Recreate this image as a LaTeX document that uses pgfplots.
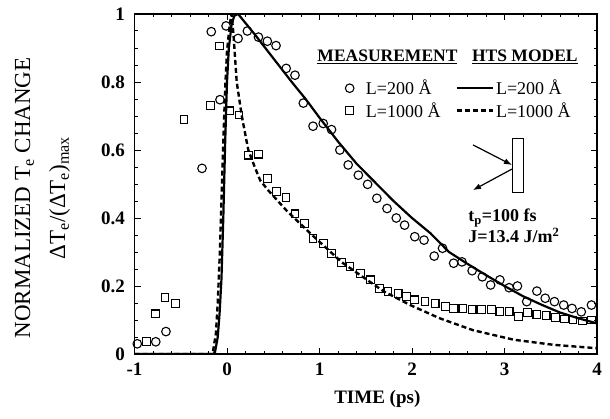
\documentclass[border=0pt]{standalone}
\usepackage{fontspec}
\setmainfont{Liberation Serif}
\usepackage{pgfplots}
\pgfplotsset{compat=1.18}
\usetikzlibrary{arrows.meta}
\pgfplotsset{
  lineleg/.style={legend image code/.code={\draw[##1] (0pt,0pt) -- (36pt,0pt);}},
  markleg/.style={legend image code/.code={\draw[##1] plot[only marks] coordinates {(0pt,0pt)};}},
}
\begin{document}
\begin{tikzpicture}
\begin{axis}[
  scale only axis, width=462.5pt, height=340pt,
  xmin=-1, xmax=4, ymin=0, ymax=1,
  xtick={-1,0,1,2,3,4}, xticklabels={-1,0,1,2,3,4},
  ytick={0,0.2,0.4,0.6,0.8,1}, yticklabels={0,0.2,0.4,0.6,0.8,1},
  minor x tick num=4, minor y tick num=3,
  tick align=inside, major tick length=6pt, minor tick length=3.5pt,
  every tick/.style={black, line width=1pt},
  axis line style={line width=1.3pt},
  ticklabel style={font=\bfseries\fontsize{19}{19}\selectfont},
  xticklabel style={yshift=-5pt},
  yticklabel style={xshift=-6pt},
  xlabel={TIME (ps)},
  xlabel style={font=\bfseries\fontsize{19}{19}\selectfont, at={(axis description cs:0.525,-0.132)}, anchor=center},
  ylabel={NORMALIZED T\textsubscript{e} CHANGE\\ΔT\textsubscript{e}/(ΔT\textsubscript{e})\textsubscript{max}},
  ylabel style={font=\fontsize{23}{35}\selectfont, align=center, at={(axis description cs:-0.199,0.459)}, anchor=center},
  legend columns=2,
  legend style={draw=none, fill=none, at={(axis description cs:0.449,0.749)}, anchor=west,
    font=\fontsize{18}{18}\selectfont, row sep=2pt,
    /tikz/every even column/.append style={column sep=13pt}, cells={anchor=west}},
]
% measurement L=200
\addplot[only marks, mark=o, mark size=4.3pt, mark options={line width=1.1pt, black}, markleg] coordinates {
(-0.97,0.03) (-0.77,0.036) (-0.66,0.066) (-0.27,0.546) (-0.17,0.948) (-0.076,0.748)
(-0.01,0.965) (0.12,0.928) (0.22,0.95) (0.34,0.932) (0.436,0.92) (0.53,0.907) (0.64,0.84)
(0.735,0.82) (0.825,0.738) (0.93,0.67) (1.04,0.678) (1.13,0.66) (1.22,0.60) (1.31,0.556)
(1.42,0.526) (1.52,0.499) (1.62,0.458) (1.73,0.428) (1.83,0.40) (1.92,0.379) (2.03,0.345)
(2.13,0.335) (2.24,0.288) (2.33,0.311) (2.45,0.267) (2.54,0.271) (2.65,0.245) (2.76,0.227)
(2.85,0.203) (2.95,0.218) (3.05,0.195) (3.14,0.20) (3.24,0.154) (3.35,0.185) (3.44,0.164)
(3.54,0.154) (3.64,0.144) (3.73,0.134) (3.83,0.124) (3.94,0.144)
};
\addlegendentry{\hspace{10pt}L=200 Å}
% HTS model L=200
\addplot[black, line width=2.2pt, lineleg] coordinates {
(-1,0) (-0.15,0) (-0.13,0.005) (-0.10,0.05) (-0.08,0.12) (-0.06,0.22) (-0.04,0.40)
(-0.02,0.62) (0,0.80) (0.02,0.90) (0.05,0.97) (0.08,0.995) (0.12,1.0) (0.3,0.94)
(0.5,0.87) (0.7,0.80) (0.85,0.75) (1.0,0.695) (1.2,0.625) (1.4,0.56) (1.6,0.505)
(1.8,0.45) (2.0,0.40) (2.2,0.355) (2.4,0.30) (2.6,0.265) (2.8,0.232) (3.0,0.20)
(3.2,0.17) (3.4,0.145) (3.6,0.122) (3.8,0.105) (4.0,0.09)
};
\addlegendentry{L=200 Å}
% measurement L=1000
\addplot[only marks, mark=square, mark size=3.9pt, mark options={line width=1.1pt, black}, markleg] coordinates {
(-0.87,0.036) (-0.77,0.118) (-0.67,0.167) (-0.56,0.149) (-0.465,0.69) (-0.18,0.73)
(-0.083,0.906) (0.03,0.715) (0.13,0.703) (0.23,0.585) (0.34,0.588) (0.436,0.517)
(0.537,0.477) (0.638,0.461) (0.735,0.412) (0.84,0.384) (0.93,0.34) (1.04,0.324)
(1.13,0.296) (1.24,0.27) (1.33,0.257) (1.44,0.237) (1.55,0.218) (1.65,0.193) (1.74,0.183)
(1.85,0.178) (1.94,0.169) (2.03,0.159) (2.14,0.154) (2.25,0.149) (2.36,0.139) (2.45,0.134)
(2.55,0.134) (2.65,0.131) (2.75,0.131) (2.86,0.131) (2.95,0.124) (3.05,0.124) (3.15,0.11)
(3.25,0.122) (3.35,0.117) (3.45,0.113) (3.55,0.108) (3.65,0.103) (3.74,0.10) (3.84,0.097)
(3.94,0.10)
};
\addlegendentry{\hspace{10pt}L=1000 Å}
% HTS model L=1000
\addplot[black, line width=2.4pt, dash pattern=on 5pt off 3pt, lineleg] coordinates {
(-1,0) (-0.17,0) (-0.15,0.01) (-0.12,0.06) (-0.10,0.15) (-0.08,0.28) (-0.06,0.45)
(-0.04,0.62) (-0.02,0.78) (0,0.89) (0.03,0.97) (0.05,1.0) (0.07,0.94) (0.105,0.80)
(0.16,0.70) (0.23,0.60) (0.30,0.55) (0.36,0.51) (0.45,0.48) (0.54,0.453) (0.65,0.42)
(0.75,0.394) (0.9,0.355) (1.04,0.32) (1.24,0.27) (1.44,0.232) (1.69,0.185) (1.98,0.144)
(2.3,0.105) (2.66,0.07) (3.1,0.042) (3.53,0.027) (4.0,0.017)
};
\addlegendentry{L=1000 Å}
\node[font=\bfseries\fontsize{17.5}{17.5}\selectfont] at (axis cs:1.735,0.875) {\underline{MEASUREMENT}};
\node[font=\bfseries\fontsize{17.5}{17.5}\selectfont] at (axis cs:3.22,0.875) {\underline{HTS MODEL}};
\draw[line width=1pt] (axis cs:3.081,0.476) rectangle (axis cs:3.200,0.635);
\draw[line width=1.2pt, -{Latex[length=8pt,width=6pt]}] (axis cs:2.659,0.615) -- (axis cs:3.081,0.556);
\draw[line width=1.2pt, -{Latex[length=8pt,width=6pt]}] (axis cs:3.081,0.544) -- (axis cs:2.659,0.482);
\node[anchor=west, align=left, font=\bfseries\fontsize{18}{19}\selectfont] at (axis cs:2.57,0.377)
  {t\textsubscript{p}=100 fs\\J=13.4 J/m\textsuperscript{2}};
\end{axis}
\pgfresetboundingbox
\path ([shift={(-134.5pt,-64pt)}]current axis.south west) rectangle ([shift={(13pt,14pt)}]current axis.north east);
\end{tikzpicture}
\end{document}
